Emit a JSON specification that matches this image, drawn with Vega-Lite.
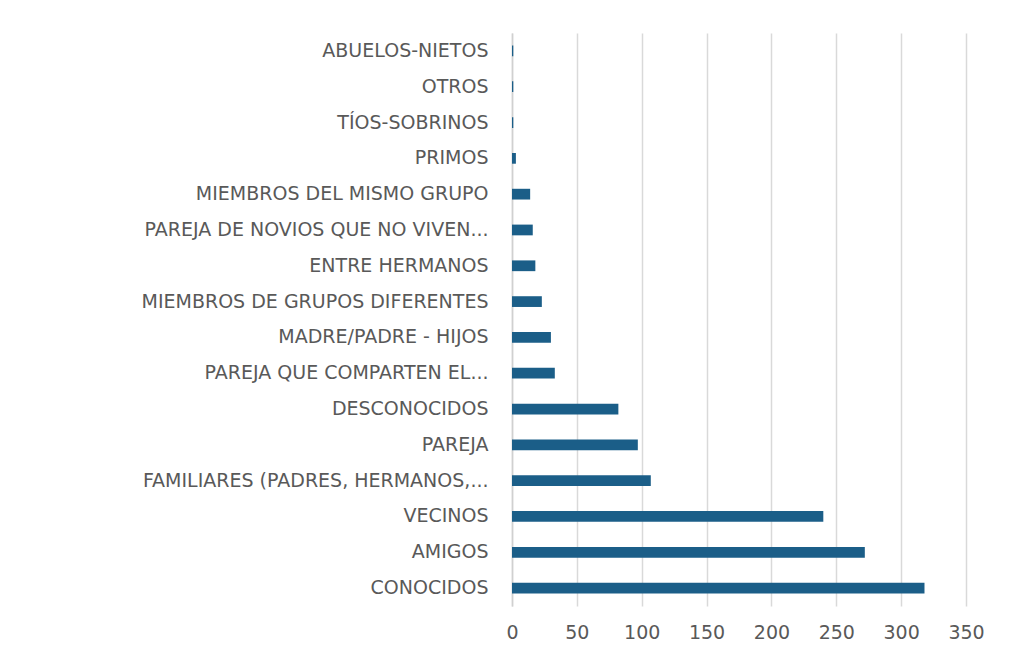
{
  "$schema": "https://vega.github.io/schema/vega-lite/v6.json",
  "width": 454,
  "height": 573,
  "padding": {"left": 12, "top": 33, "right": 47, "bottom": 8},
  "background": "white",
  "data": {
    "values": [
      {"relacion": "ABUELOS-NIETOS", "casos": 1},
      {"relacion": "OTROS", "casos": 1},
      {"relacion": "TÍOS-SOBRINOS", "casos": 1},
      {"relacion": "PRIMOS", "casos": 3},
      {"relacion": "MIEMBROS DEL MISMO GRUPO", "casos": 14},
      {"relacion": "PAREJA DE NOVIOS QUE NO VIVEN...", "casos": 16},
      {"relacion": "ENTRE HERMANOS", "casos": 18},
      {"relacion": "MIEMBROS DE GRUPOS DIFERENTES", "casos": 23},
      {"relacion": "MADRE/PADRE - HIJOS", "casos": 30},
      {"relacion": "PAREJA QUE COMPARTEN EL...", "casos": 33},
      {"relacion": "DESCONOCIDOS", "casos": 82},
      {"relacion": "PAREJA", "casos": 97},
      {"relacion": "FAMILIARES (PADRES, HERMANOS,...", "casos": 107},
      {"relacion": "VECINOS", "casos": 240},
      {"relacion": "AMIGOS", "casos": 272},
      {"relacion": "CONOCIDOS", "casos": 318}
    ]
  },
  "mark": {"type": "bar", "color": "#1b5e88"},
  "encoding": {
    "y": {
      "field": "relacion",
      "type": "nominal",
      "sort": null,
      "scale": {"paddingInner": 0.7, "paddingOuter": 0.35},
      "axis": {
        "title": null,
        "ticks": false,
        "domain": true,
        "domainColor": "#d0d0d0",
        "domainWidth": 1.5,
        "labelFont": "DejaVu Sans",
        "labelFontSize": 19,
        "labelColor": "#595959",
        "labelPadding": 24,
        "labelLimit": 480,
        "minExtent": 500,
        "maxExtent": 500
      }
    },
    "x": {
      "field": "casos",
      "type": "quantitative",
      "scale": {"domain": [0, 350], "nice": false},
      "axis": {
        "title": null,
        "values": [0, 50, 100, 150, 200, 250, 300, 350],
        "ticks": false,
        "domain": false,
        "grid": true,
        "gridColor": "#d9d9d9",
        "gridWidth": 1.5,
        "labelFlush": false,
        "labelOverlap": false,
        "labelFont": "DejaVu Sans",
        "labelFontSize": 19,
        "labelColor": "#595959",
        "labelPadding": 17,
        "minExtent": 40,
        "maxExtent": 40
      }
    }
  },
  "config": {"view": {"stroke": null}}
}
